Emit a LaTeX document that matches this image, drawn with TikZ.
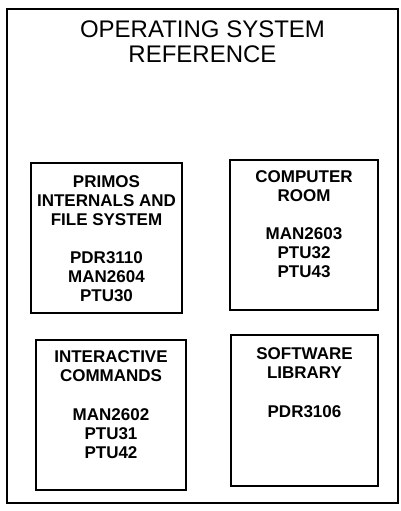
\documentclass[tikz,border=0pt]{standalone}
\usepackage{fontspec}
\setmainfont{Liberation Sans}
\usetikzlibrary{positioning}
\begin{document}
\begin{tikzpicture}[x=1pt, y=1pt]
		\tikzstyle{frame} = [draw, line width=1.6pt, rectangle, inner sep=0pt]
		\tikzstyle{square} = [draw, line width=1.8pt, rectangle, inner sep=0pt]
		\tikzstyle{title} = [inner sep=0pt, align=center,
		font=\fontsize{24}{25}\selectfont]
		\tikzstyle{entry} = [inner sep=0pt, align=center,
		font=\bfseries\fontsize{17}{19}\selectfont]
		\useasboundingbox (0,0) rectangle (400,-511);
		\path
		node[frame, minimum width=391pt, minimum height=494pt] (ref) at (202.5,-256) {}
		node[title, below=12.5pt of ref.north] (head) {OPERATING SYSTEM\\REFERENCE}
		% left column
		node[square, minimum width=151pt, minimum height=150pt] (primos) at (106.5,-238) {}
		node[square, minimum width=150pt, minimum height=150pt] (inter) at (111,-415) {}
		% right column
		node[square, minimum width=148pt, minimum height=150pt] (room) at (304,-235) {}
		node[square, minimum width=147pt, minimum height=151pt] (lib) at (304.5,-410.5) {}
		node[entry, below=13.5pt of primos.north] (primostext)
		{PRIMOS\\INTERNALS AND\\FILE SYSTEM\\[19pt]PDR3110\\MAN2604\\PTU30}
		node[entry, below=11.5pt of room.north] (roomtext)
		{COMPUTER\\ROOM\\[19pt]MAN2603\\PTU32\\PTU43}
		node[entry, below=11.5pt of inter.north] (intertext)
		{INTERACTIVE\\COMMANDS\\[20pt]MAN2602\\PTU31\\PTU42}
		node[entry, below=13pt of lib.north] (libtext)
		{SOFTWARE\\LIBRARY\\[20pt]PDR3106}
		;
\end{tikzpicture}
\end{document}
